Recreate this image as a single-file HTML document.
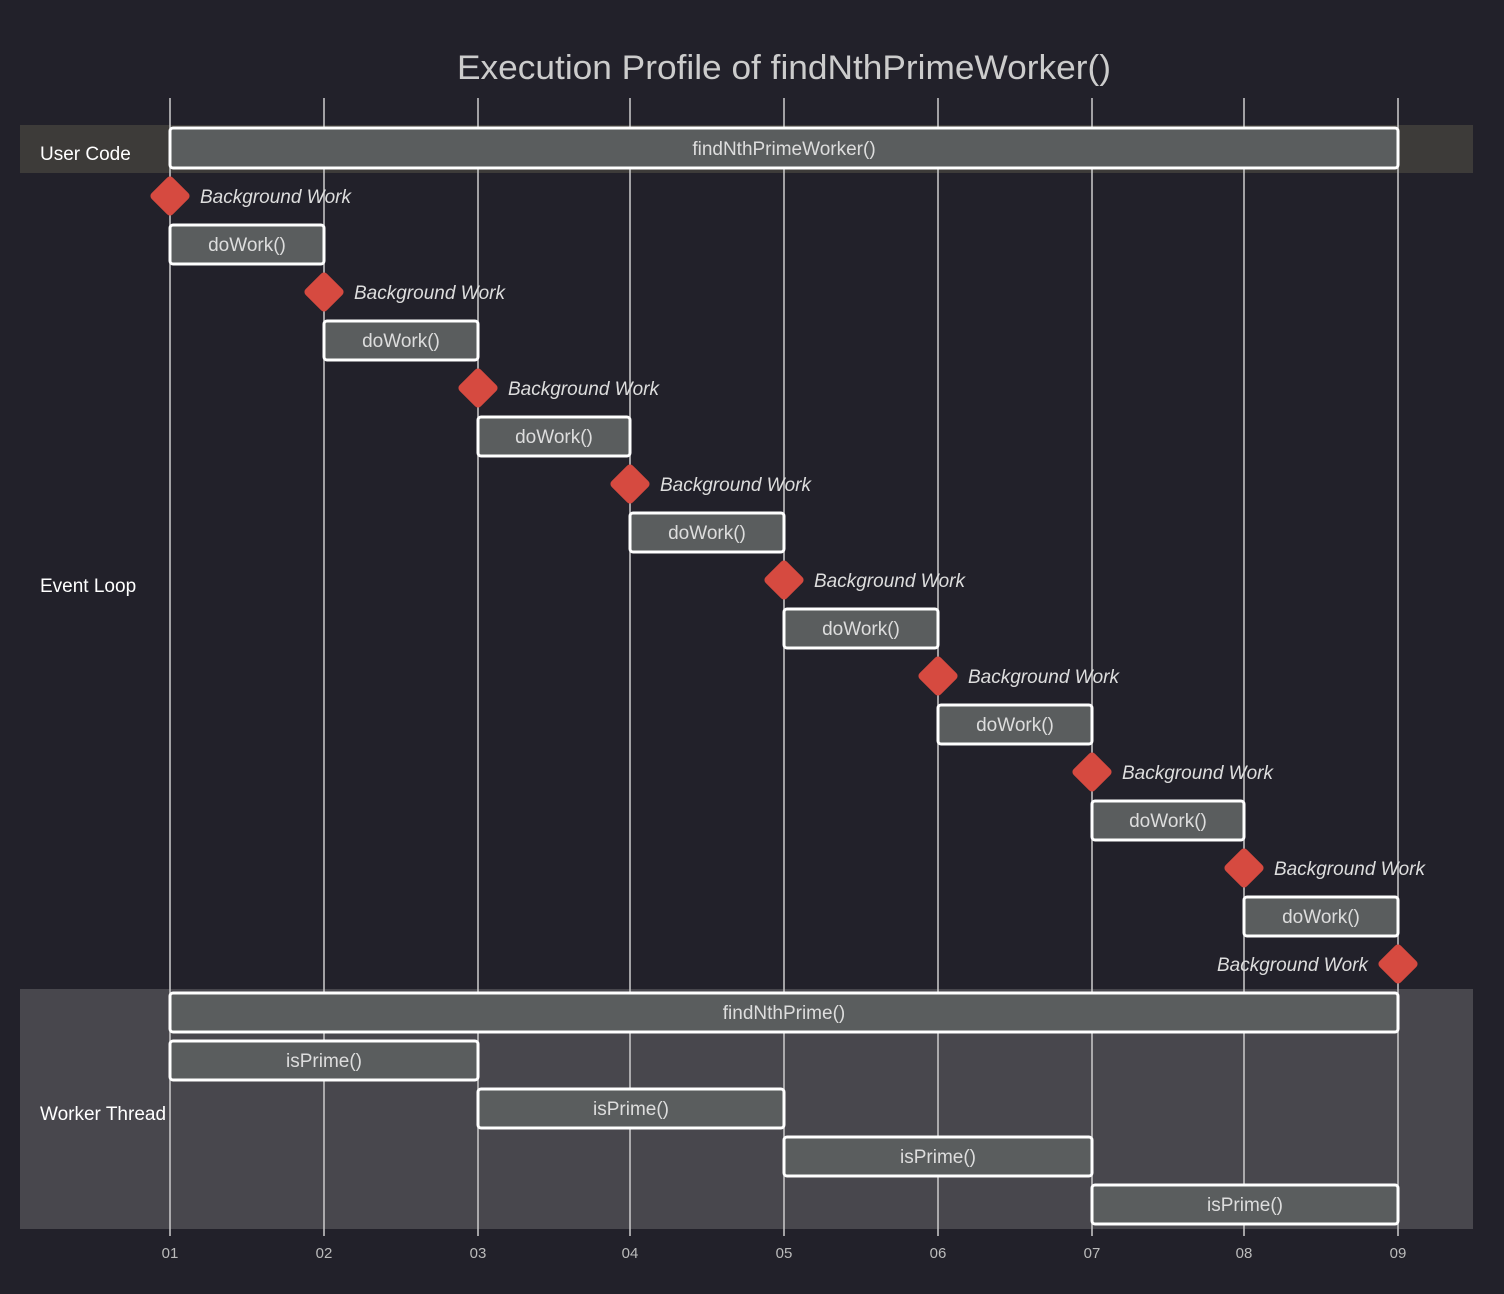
<!DOCTYPE html>
<html><head><meta charset="utf-8"><style>
html,body{margin:0;padding:0;background:#22212a;}
svg{display:block;font-family:"Liberation Sans",sans-serif;}
.b{fill:#5a5d5e;stroke:#fff;stroke-width:3;}
.t{fill:#ddd;font-size:19px;text-anchor:middle;}
.m{fill:#d64a40;}
.ml{fill:#ddd;font-size:19px;font-style:italic;}
.g{stroke:#ccc;stroke-width:1.5;}
.s{fill:#fff;font-size:19px;}
.k{fill:#bbb;font-size:15px;text-anchor:middle;}
</style></head><body>
<svg width="1504" height="1294" viewBox="0 0 1504 1294">
<rect width="1504" height="1294" fill="#22212a"/>
<rect x="20" y="125" width="1453" height="48" fill="#3d3b39"/>
<rect x="20" y="989" width="1453" height="240" fill="#48474d"/>
<g class="g">
<line x1="170" y1="98" x2="170" y2="1236"/><line x1="324" y1="98" x2="324" y2="1236"/>
<line x1="478" y1="98" x2="478" y2="1236"/><line x1="630" y1="98" x2="630" y2="1236"/>
<line x1="784" y1="98" x2="784" y2="1236"/><line x1="938" y1="98" x2="938" y2="1236"/>
<line x1="1092" y1="98" x2="1092" y2="1236"/><line x1="1244" y1="98" x2="1244" y2="1236"/>
<line x1="1398" y1="98" x2="1398" y2="1236"/>
</g>
<text x="784" y="79" fill="#ccc" font-size="34" text-anchor="middle" textLength="654" lengthAdjust="spacingAndGlyphs">Execution Profile of findNthPrimeWorker()</text>
<text class="s" x="40" y="160">User Code</text>
<text class="s" x="40" y="592">Event Loop</text>
<text class="s" x="40" y="1120">Worker Thread</text>

<rect class="b" x="170" y="128" width="1228" height="40" rx="3"/><text class="t" x="784" y="155">findNthPrimeWorker()</text>

<g>
<rect class="m" x="155" y="181" width="30" height="30" rx="4" transform="rotate(45 170 196)"/><text class="ml" x="200" y="203">Background Work</text>
<rect class="b" x="170" y="225" width="154" height="39" rx="3"/><text class="t" x="247" y="251">doWork()</text>
<rect class="m" x="309" y="277" width="30" height="30" rx="4" transform="rotate(45 324 292)"/><text class="ml" x="354" y="299">Background Work</text>
<rect class="b" x="324" y="321" width="154" height="39" rx="3"/><text class="t" x="401" y="347">doWork()</text>
<rect class="m" x="463" y="373" width="30" height="30" rx="4" transform="rotate(45 478 388)"/><text class="ml" x="508" y="395">Background Work</text>
<rect class="b" x="478" y="417" width="152" height="39" rx="3"/><text class="t" x="554" y="443">doWork()</text>
<rect class="m" x="615" y="469" width="30" height="30" rx="4" transform="rotate(45 630 484)"/><text class="ml" x="660" y="491">Background Work</text>
<rect class="b" x="630" y="513" width="154" height="39" rx="3"/><text class="t" x="707" y="539">doWork()</text>
<rect class="m" x="769" y="565" width="30" height="30" rx="4" transform="rotate(45 784 580)"/><text class="ml" x="814" y="587">Background Work</text>
<rect class="b" x="784" y="609" width="154" height="39" rx="3"/><text class="t" x="861" y="635">doWork()</text>
<rect class="m" x="923" y="661" width="30" height="30" rx="4" transform="rotate(45 938 676)"/><text class="ml" x="968" y="683">Background Work</text>
<rect class="b" x="938" y="705" width="154" height="39" rx="3"/><text class="t" x="1015" y="731">doWork()</text>
<rect class="m" x="1077" y="757" width="30" height="30" rx="4" transform="rotate(45 1092 772)"/><text class="ml" x="1122" y="779">Background Work</text>
<rect class="b" x="1092" y="801" width="152" height="39" rx="3"/><text class="t" x="1168" y="827">doWork()</text>
<rect class="m" x="1229" y="853" width="30" height="30" rx="4" transform="rotate(45 1244 868)"/><text class="ml" x="1274" y="875">Background Work</text>
<rect class="b" x="1244" y="897" width="154" height="39" rx="3"/><text class="t" x="1321" y="923">doWork()</text>
<rect class="m" x="1383" y="949" width="30" height="30" rx="4" transform="rotate(45 1398 964)"/><text class="ml" x="1368" y="971" text-anchor="end">Background Work</text>
</g>

<rect class="b" x="170" y="993" width="1228" height="39" rx="3"/><text class="t" x="784" y="1019">findNthPrime()</text>
<rect class="b" x="170" y="1041" width="308" height="39" rx="3"/><text class="t" x="324" y="1067">isPrime()</text>
<rect class="b" x="478" y="1089" width="306" height="39" rx="3"/><text class="t" x="631" y="1115">isPrime()</text>
<rect class="b" x="784" y="1137" width="308" height="39" rx="3"/><text class="t" x="938" y="1163">isPrime()</text>
<rect class="b" x="1092" y="1185" width="306" height="39" rx="3"/><text class="t" x="1245" y="1211">isPrime()</text>

<g class="k">
<text x="170" y="1258">01</text><text x="324" y="1258">02</text><text x="478" y="1258">03</text>
<text x="630" y="1258">04</text><text x="784" y="1258">05</text><text x="938" y="1258">06</text>
<text x="1092" y="1258">07</text><text x="1244" y="1258">08</text><text x="1398" y="1258">09</text>
</g>
</svg>
</body></html>
